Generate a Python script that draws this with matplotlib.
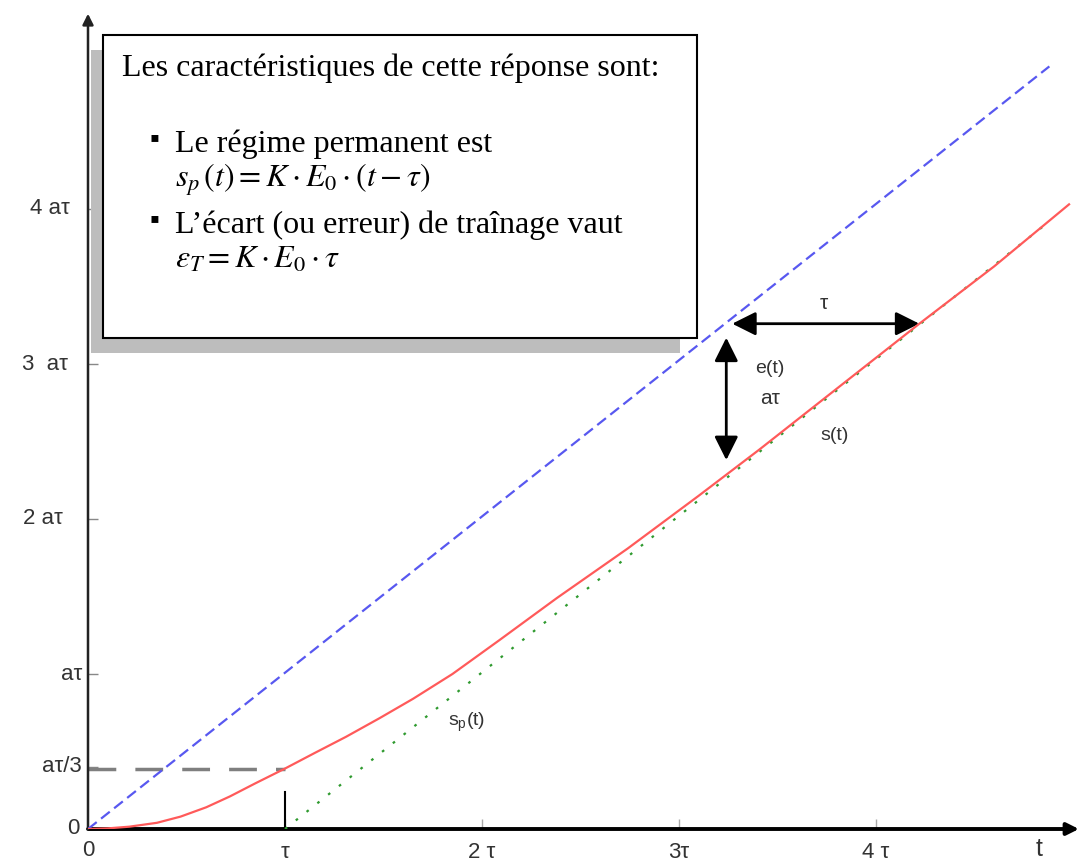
import matplotlib.pyplot as plt
from matplotlib.patches import Rectangle

plt.rcParams['mathtext.fontset'] = 'stix'

# Entrée rampe e(t), réponse s(t) et régime permanent s_p(t)  (t en τ, valeurs en aτ)
t_e = [0.0, 4.88]
v_e = [0.0, 4.92]

t_s = [0.0, 0.1, 0.21, 0.35, 0.47, 0.6, 0.72, 0.85, 1.0, 1.15, 1.31, 1.48, 1.65,
       1.85, 2.09, 2.38, 2.74, 3.1, 3.41, 3.83, 4.22, 4.6, 4.98]
v_s = [0.0, 0.004, 0.015, 0.04, 0.08, 0.14, 0.21, 0.295, 0.39, 0.49, 0.595, 0.715, 0.84,
       1.0, 1.22, 1.49, 1.81, 2.15, 2.45, 2.87, 3.26, 3.63, 4.03]

t_sp = [1.0, 4.87]
v_sp = [0.0, 3.91]

# Graduations
xticks = [1, 2, 3, 4]
xlabels = ['τ', '2 τ', '3τ', '4 τ']
yticks = [0, 0.40, 1, 2, 3, 4]
ylabels = ['0', 'aτ/3', 'aτ', '2 aτ', '3  aτ', '4 aτ']
ylabel_px = [80, 82, 82, 63, 68, 70]   # bord droit des étiquettes (pixels)

# Flèches de cotation : écart horizontal τ et écart vertical aτ
tau_y, tau_t0, tau_t1 = 3.26, 3.27, 4.22
at_t, at_v0, at_v1 = 3.24, 3.17, 2.38

W, H = 1081, 864
X0, Y0 = 88, 829          # origine en pixels
PX_T, PX_V = 197, 155     # pixels par τ et par aτ

fig = plt.figure(figsize=(W / 100, H / 100), dpi=100)
ax = fig.add_axes([X0 / W, (H - Y0) / H, (W - X0) / W, Y0 / H])
ax.set_xlim(0, (W - X0) / PX_T)
ax.set_ylim(0, Y0 / PX_V)
for s in ax.spines.values():
    s.set_visible(False)

sans = 'Liberation Sans'
grey = '#333333'

# axes fléchés
ax.annotate('', xy=(5.03, 0), xytext=(0, 0), annotation_clip=False,
            arrowprops=dict(arrowstyle='-|>', lw=2.8, color='black', mutation_scale=18,
                            shrinkA=0, shrinkB=0))
ax.annotate('', xy=(0, 5.26), xytext=(0, 0), annotation_clip=False,
            arrowprops=dict(arrowstyle='-|>', lw=1.8, color='#222222', mutation_scale=16,
                            shrinkA=0, shrinkB=0))

# courbes
ax.plot(t_e, v_e, color='#5858f0', lw=1.6, dashes=(5, 2.5), zorder=3)
ax.plot(t_sp, v_sp, color='#2f9a2f', lw=1.6, dashes=(1.2, 5), zorder=3)
ax.plot(t_s, v_s, color='#ff5a5a', lw=1.6, zorder=4)

# repère aτ/3 à t = τ
ax.plot([0, 1], [v_s[8], v_s[8]], color='#7f7f7f', lw=2.5, dashes=(8, 5.5), zorder=2)
ax.plot([1, 1], [0, 0.24], color='black', lw=1.5, zorder=2)

# ticks
ax.set_xticks(xticks)
ax.set_xticklabels(xlabels, fontfamily=sans, fontsize=16, color=grey)
ax.tick_params(axis='x', direction='in', length=7, width=1, color='#aaaaaa', pad=9)
ax.set_yticks(yticks)
ax.set_yticklabels([])
ax.tick_params(axis='y', direction='in', length=7, width=1, color='#888888')
for v, lab, px in zip(yticks, ylabels, ylabel_px):
    ax.text((px - X0) / PX_T, v, lab, ha='right', va='center', fontfamily=sans,
            fontsize=16, color=grey, clip_on=False)
ax.text(0, -0.14, '0', ha='center', va='center', fontfamily=sans, fontsize=16,
        color=grey, clip_on=False)
ax.text(4.83, -0.13, 't', ha='center', va='center', fontfamily=sans, fontsize=18,
        color=grey, clip_on=False)

# cotations
big_head = dict(arrowstyle='<|-|>', lw=2, color='black', mutation_scale=36,
                shrinkA=0, shrinkB=0)
ax.annotate('', xy=(tau_t1, tau_y), xytext=(tau_t0, tau_y), arrowprops=big_head)
ax.annotate('', xy=(at_t, at_v1), xytext=(at_t, at_v0), arrowprops=big_head)
ax.text((tau_t0 + tau_t1) / 2 - 0.01, tau_y + 0.13, 'τ', ha='center', va='center',
        fontfamily=sans, fontsize=15, color=grey)
ax.text(at_t + 0.22, 2.78, 'aτ', ha='center', va='center', fontfamily=sans,
        fontsize=15, color=grey)

# noms des courbes
ax.text(3.46, 2.97, 'e(t)', ha='center', va='center', fontfamily=sans, fontsize=14, color=grey)
ax.text(3.79, 2.54, 's(t)', ha='center', va='center', fontfamily=sans, fontsize=14, color=grey)
ax.text(1.92, 0.69, r'$\mathregular{s_p(t)}$', ha='center', va='center',
        fontfamily=sans, fontsize=14, color=grey)


def fpos(x, y):
    # pixels comptés depuis le coin haut-gauche -> fraction de figure
    return x / W, 1 - y / H


# encadré avec ombre grise
sx, sy = fpos(91, 353)
fig.patches.append(Rectangle((sx, sy), (680 - 91) / W, (353 - 50) / H,
                             transform=fig.transFigure, facecolor='#bdbdbd',
                             edgecolor='none', zorder=5))
bx, by = fpos(103, 338)
fig.patches.append(Rectangle((bx, by), (697 - 103) / W, (338 - 35) / H,
                             transform=fig.transFigure, facecolor='white',
                             edgecolor='black', lw=1.5, zorder=6))

serif = 'Liberation Serif'
fs = 23
fig.text(*fpos(122, 76), 'Les caractéristiques de cette réponse sont:', fontfamily=serif,
         fontsize=fs, va='baseline', zorder=7)
for yb in (140, 221):
    fig.text(*fpos(154, yb), '▪', fontfamily=[serif, 'DejaVu Sans'], fontsize=20,
             ha='center', va='center', zorder=7)
fig.text(*fpos(175, 152), 'Le régime permanent est', fontfamily=serif, fontsize=fs,
         va='baseline', zorder=7)
fig.text(*fpos(175, 187), r'$s_p\,(t) = K \cdot E_0 \cdot (t - \tau)$', fontsize=fs,
         va='baseline', zorder=7)
fig.text(*fpos(175, 233), 'L’écart (ou erreur) de traînage vaut', fontfamily=serif,
         fontsize=fs, va='baseline', zorder=7)
fig.text(*fpos(175, 268), r'$\varepsilon_T = K \cdot E_0 \cdot \tau$', fontsize=fs,
         va='baseline', zorder=7)

fig.savefig('out.png', dpi=100)
